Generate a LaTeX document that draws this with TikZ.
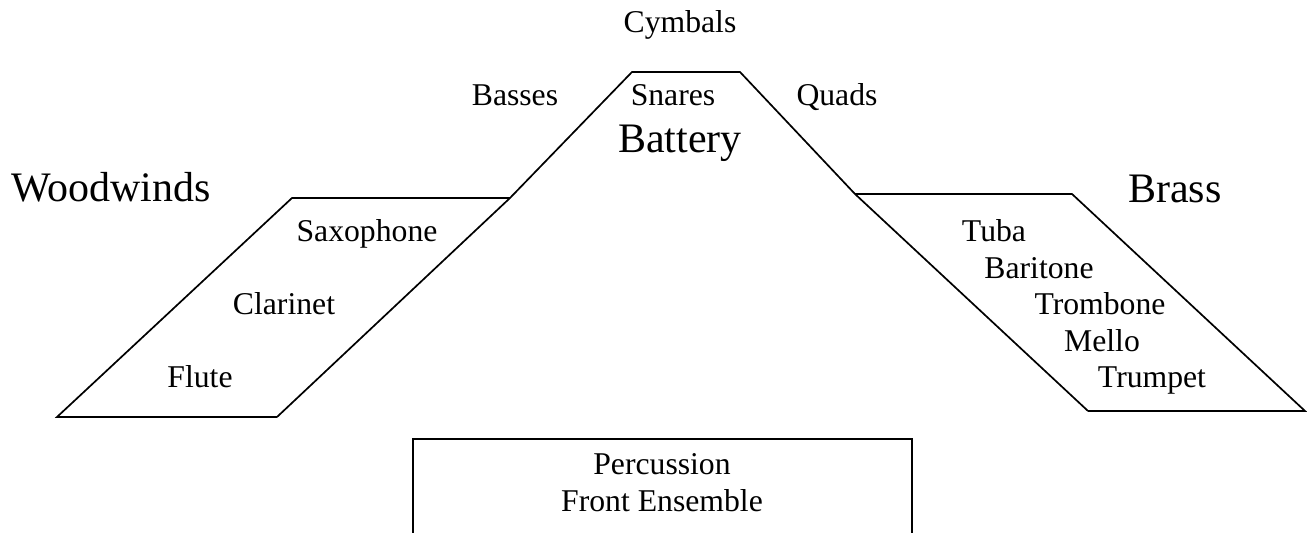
\documentclass[tikz,border=0pt]{standalone}
\usepackage{fontspec}
\setmainfont{Liberation Serif}
\begin{document}
\begin{tikzpicture}[x=0.5pt,y=-0.5pt,
  shapeline/.style={draw=black,line width=0.85pt,line join=miter},
  lbl/.style={anchor=base,inner sep=0pt,font=\fontsize{15.85}{19}\selectfont},
  biglbl/.style={anchor=base,inner sep=0pt,font=\fontsize{21}{25}\selectfont}]
\clip (0,0) rectangle (1307,533);
% battery arc (trapezoid) with legs continuing into the section sides
\draw[shapeline] (277,417) -- (510,198) -- (632,72) -- (740,72) -- (855,194) -- (1088,411);
% woodwinds parallelogram
\draw[shapeline] (510,198) -- (292,198) -- (57,417) -- (277,417);
% brass parallelogram
\draw[shapeline] (855,194) -- (1072,194) -- (1305,411) -- (1088,411);
% front ensemble box
\draw[shapeline] (413,545) -- (413,439) -- (912,439) -- (912,545);
% labels
\node[lbl] (cym) at (680,33) {Cymbals};
\node[lbl] (bas) at (515,106) {Basses};
\node[lbl] (sna) at (673,106) {Snares};
\node[lbl] (qua) at (837,106) {Quads};
\node[biglbl] (bat) at (680,153) {Battery};
\node[biglbl] (ww) at (111,202) {Woodwinds};
\node[biglbl] (br) at (1175,203) {Brass};
\node[lbl] (sax) at (367,242) {Saxophone};
\node[lbl] (cla) at (284,315) {Clarinet};
\node[lbl] (flu) at (200,388) {Flute};
\node[lbl] (tub) at (994,242) {Tuba};
\node[lbl] (bari) at (1039,279) {Baritone};
\node[lbl] (trb) at (1100,315) {Trombone};
\node[lbl] (mel) at (1102,352) {Mello};
\node[lbl] (trp) at (1152,388) {Trumpet};
\node[lbl] (perc) at (662,475) {Percussion};
\node[lbl] (front) at (662,512) {Front Ensemble};
\end{tikzpicture}
\end{document}
